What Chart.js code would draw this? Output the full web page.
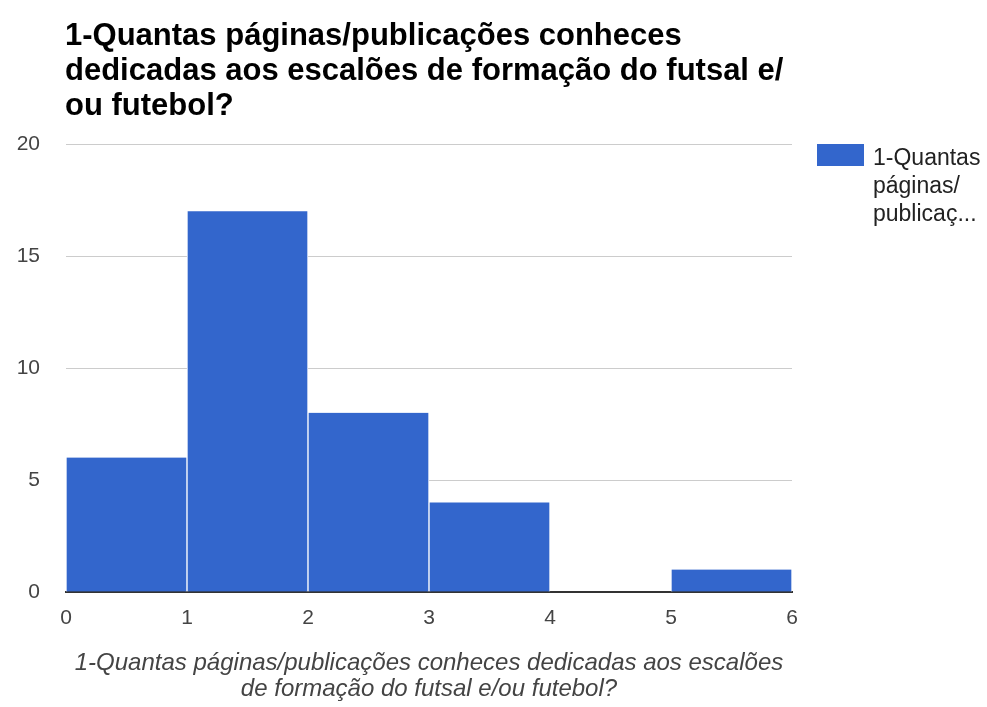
<!DOCTYPE html>
<html>
<head>
<meta charset="utf-8">
<script src="https://cdn.jsdelivr.net/npm/chart.js@4/dist/chart.umd.min.js"></script>
<style>
  html, body { margin: 0; padding: 0; background: #ffffff; }
  #wrap { position: relative; width: 987px; height: 707px; }
</style>
</head>
<body>
<div id="wrap"><canvas id="chart"></canvas></div>
<script>
// Histogram of answers: how many pages/publications each respondent knows
const titleLines = [
  '1-Quantas páginas/publicações conheces',
  'dedicadas aos escalões de formação do futsal e/',
  'ou futebol?'
];
const axisTitleLines = [
  '1-Quantas páginas/publicações conheces dedicadas aos escalões',
  'de formação do futsal e/ou futebol?'
];
const legendLines = ['1-Quantas', 'páginas/', 'publicaç...'];
const seriesName = '1-Quantas páginas/publicações conheces dedicadas aos escalões de formação do futsal e/ou futebol?';

const binEdges = [0, 1, 2, 3, 4, 5, 6];
const binCounts = [6, 17, 8, 4, 0, 1];
const yTicks = [0, 5, 10, 15, 20];

const BAR_BLUE = '#3366cc';
const FONT = "Arial, 'Liberation Sans', sans-serif";

const bins = binCounts.map((c, i) => ({ x: (binEdges[i] + binEdges[i + 1]) / 2, y: c }));

// Heading and side legend drawn straight onto the canvas
const decorations = {
  id: 'decorations',
  afterDraw(chart) {
    const ctx = chart.ctx;
    const area = chart.chartArea;
    ctx.save();
    ctx.fillStyle = '#000000';
    ctx.font = 'bold 31px ' + FONT;
    ctx.textBaseline = 'middle';
    ctx.textAlign = 'left';
    titleLines.forEach((t, i) => ctx.fillText(t, area.left - 1, 36 + i * 35));

    const lx = area.right + 25;
    ctx.fillStyle = BAR_BLUE;
    ctx.fillRect(lx, area.top, 47, 22);
    ctx.fillStyle = '#222222';
    ctx.font = '23px ' + FONT;
    legendLines.forEach((t, i) => ctx.fillText(t, lx + 56, area.top + 15 + i * 28));
    ctx.restore();
  }
};

new Chart(document.getElementById('chart'), {
  type: 'bar',
  data: {
    datasets: [{
      label: seriesName,
      data: bins,
      backgroundColor: BAR_BLUE,
      borderColor: '#ffffff',
      borderWidth: { left: 1, right: 1, top: 0, bottom: 0 },
      borderSkipped: false,
      barPercentage: 1,
      categoryPercentage: 1
    }]
  },
  options: {
    responsive: true,
    maintainAspectRatio: false,
    animation: false,
    layout: { padding: { top: 144, right: 195, left: 0, bottom: 0 } },
    plugins: {
      legend: { display: false },
      title: { display: false },
      tooltip: { enabled: false }
    },
    scales: {
      x: {
        type: 'linear',
        min: binEdges[0],
        max: binEdges[binEdges.length - 1],
        offset: false,
        z: 1,
        grid: { display: false, drawTicks: false },
        border: { display: true, color: '#333333', width: 2 },
        ticks: {
          stepSize: 1,
          color: '#444444',
          padding: 14,
          font: { family: FONT, size: 21 }
        },
        title: {
          display: true,
          text: axisTitleLines,
          color: '#444444',
          font: { family: FONT, size: 24, style: 'italic', lineHeight: 1.1 },
          padding: { top: 0, bottom: 4 }
        },
        afterFit(scale) { scale.height = 115; }
      },
      y: {
        min: yTicks[0],
        max: yTicks[yTicks.length - 1],
        grid: { color: '#cccccc', lineWidth: 1, drawTicks: false },
        border: { display: false },
        ticks: {
          stepSize: 5,
          color: '#444444',
          padding: 26,
          font: { family: FONT, size: 21 }
        },
        afterFit(scale) { scale.width = 66; }
      }
    }
  },
  plugins: [decorations]
});
</script>
</body>
</html>
